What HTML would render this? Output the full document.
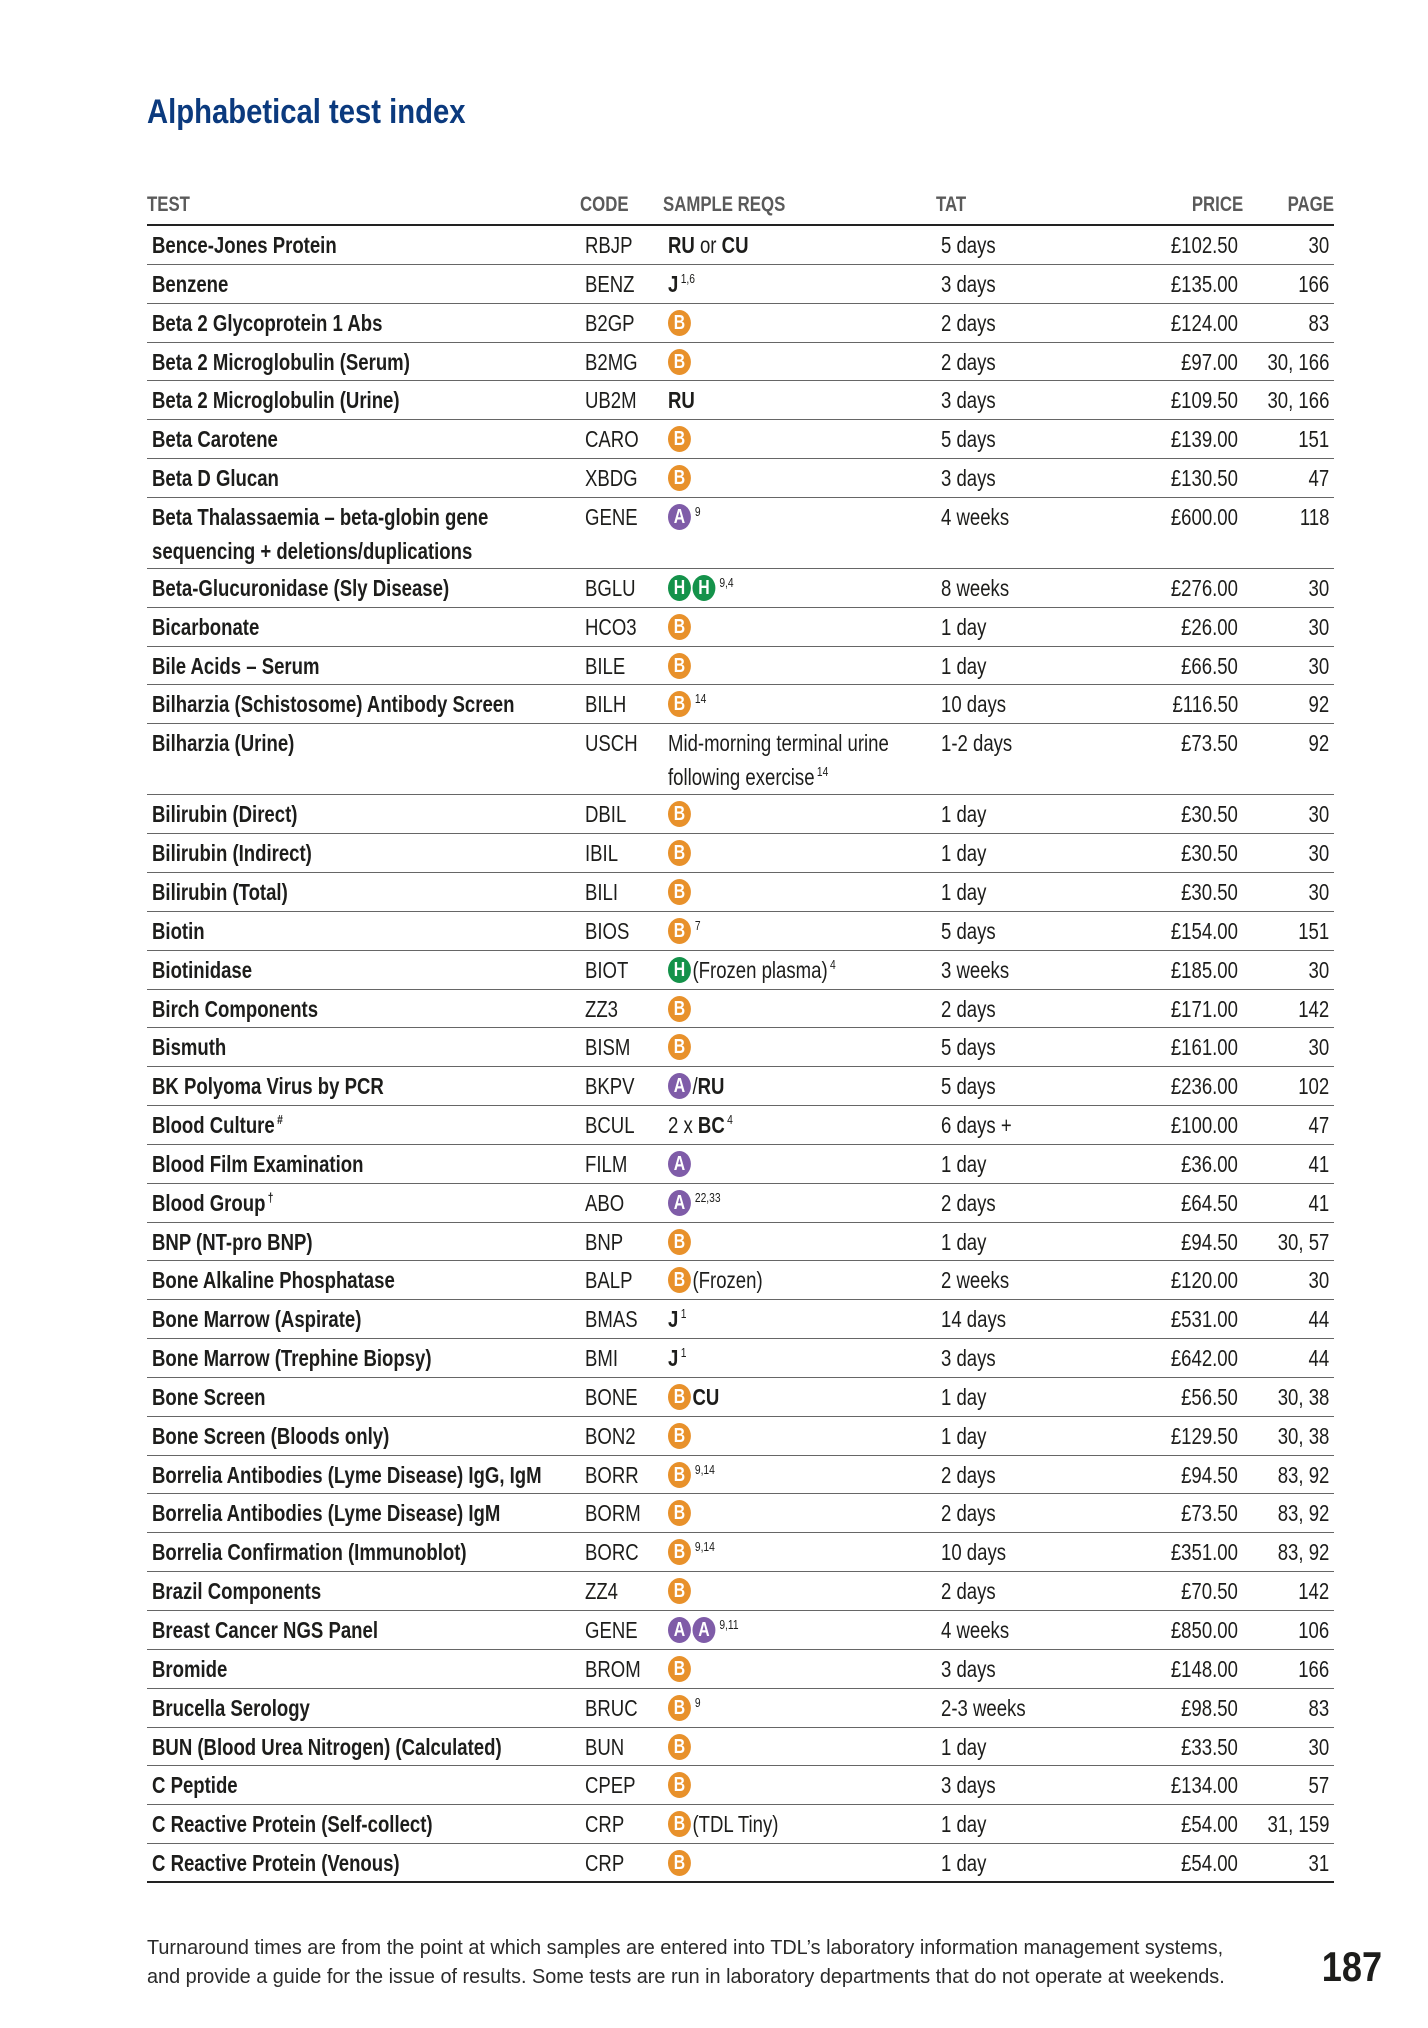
<!DOCTYPE html>
<html><head><meta charset="utf-8"><style>
*{margin:0;padding:0;box-sizing:border-box}
body{width:1428px;height:2028px;background:#fff;position:relative;font-family:"Liberation Sans Narrow","Liberation Sans",sans-serif;color:#1d1d1b;overflow:hidden}
h1{position:absolute;left:147px;top:93px;font-size:34px;font-weight:bold;color:#0b3a7e;transform:scaleX(.86);transform-origin:left;white-space:nowrap}
.hd{position:absolute;top:192px;left:147px;width:1187px;height:34px;border-bottom:2.5px solid #222;font-size:21px;font-weight:bold;color:#5a5a5a}
.hd span{position:absolute;top:1px;transform:scaleX(.8);transform-origin:left;white-space:nowrap}
.hd span.rt{transform-origin:right}
#t{position:absolute;top:226px;left:147px;width:1187px}
.r{position:relative;height:38.85px;border-bottom:1.5px solid #666;font-size:23.5px;line-height:34px}
.r.d{height:71px}
.r>span{position:absolute;top:2px;white-space:nowrap;transform:scaleX(.79);transform-origin:left}
.n{left:5px;font-weight:bold}
.c{left:438px}
.s{left:521px}
.a{left:794px}
.r>span.p{right:96px;transform-origin:right}
.r>span.g{right:5px;transform-origin:right}
.r:last-child{border-bottom:2px solid #222}
b{font-weight:bold}
sup{font-size:13px;vertical-align:9px;margin-left:3px;line-height:0}
i{display:inline-block;font-style:normal;width:29px;height:26px;border-radius:50%;color:#fff;font-weight:bold;font-size:20px;line-height:26px;text-align:center;vertical-align:2px;margin-right:2px}
.B{background:#e8912b}.A{background:#7f5ca8}.H{background:#14924a}
.foot{position:absolute;left:147px;top:1933px;font-size:20.5px;line-height:29px;color:#2a2a2a;transform:scaleX(.968);transform-origin:left;white-space:nowrap}
.pg{position:absolute;right:46px;top:1943px;font-size:42px;font-weight:bold;color:#1d1d1b;transform:scaleX(.86);transform-origin:right}
</style></head><body>
<h1>Alphabetical test index</h1>
<div class="hd"><span style="left:0">TEST</span><span style="left:433px">CODE</span><span style="left:516px">SAMPLE REQS</span><span style="left:789px">TAT</span><span class="rt" style="right:91px">PRICE</span><span class="rt" style="right:0">PAGE</span></div>
<div id="t">
<div class="r"><span class="n">Bence-Jones Protein</span><span class="c">RBJP</span><span class="s"><b>RU</b> or <b>CU</b></span><span class="a">5 days</span><span class="p">£102.50</span><span class="g">30</span></div>
<div class="r"><span class="n">Benzene</span><span class="c">BENZ</span><span class="s"><b>J</b><sup>1,6</sup></span><span class="a">3 days</span><span class="p">£135.00</span><span class="g">166</span></div>
<div class="r"><span class="n">Beta 2 Glycoprotein 1 Abs</span><span class="c">B2GP</span><span class="s"><i class="B">B</i></span><span class="a">2 days</span><span class="p">£124.00</span><span class="g">83</span></div>
<div class="r"><span class="n">Beta 2 Microglobulin (Serum)</span><span class="c">B2MG</span><span class="s"><i class="B">B</i></span><span class="a">2 days</span><span class="p">£97.00</span><span class="g">30, 166</span></div>
<div class="r"><span class="n">Beta 2 Microglobulin (Urine)</span><span class="c">UB2M</span><span class="s"><b>RU</b></span><span class="a">3 days</span><span class="p">£109.50</span><span class="g">30, 166</span></div>
<div class="r"><span class="n">Beta Carotene</span><span class="c">CARO</span><span class="s"><i class="B">B</i></span><span class="a">5 days</span><span class="p">£139.00</span><span class="g">151</span></div>
<div class="r"><span class="n">Beta D Glucan</span><span class="c">XBDG</span><span class="s"><i class="B">B</i></span><span class="a">3 days</span><span class="p">£130.50</span><span class="g">47</span></div>
<div class="r d"><span class="n">Beta Thalassaemia – beta-globin gene<br>sequencing + deletions/duplications</span><span class="c">GENE</span><span class="s"><i class="A">A</i><sup>9</sup></span><span class="a">4 weeks</span><span class="p">£600.00</span><span class="g">118</span></div>
<div class="r"><span class="n">Beta-Glucuronidase (Sly Disease)</span><span class="c">BGLU</span><span class="s"><i class="H">H</i><i class="H">H</i><sup>9,4</sup></span><span class="a">8 weeks</span><span class="p">£276.00</span><span class="g">30</span></div>
<div class="r"><span class="n">Bicarbonate</span><span class="c">HCO3</span><span class="s"><i class="B">B</i></span><span class="a">1 day</span><span class="p">£26.00</span><span class="g">30</span></div>
<div class="r"><span class="n">Bile Acids – Serum</span><span class="c">BILE</span><span class="s"><i class="B">B</i></span><span class="a">1 day</span><span class="p">£66.50</span><span class="g">30</span></div>
<div class="r"><span class="n">Bilharzia (Schistosome) Antibody Screen</span><span class="c">BILH</span><span class="s"><i class="B">B</i><sup>14</sup></span><span class="a">10 days</span><span class="p">£116.50</span><span class="g">92</span></div>
<div class="r d"><span class="n">Bilharzia (Urine)</span><span class="c">USCH</span><span class="s">Mid-morning terminal urine<br>following exercise<sup>14</sup></span><span class="a">1-2 days</span><span class="p">£73.50</span><span class="g">92</span></div>
<div class="r"><span class="n">Bilirubin (Direct)</span><span class="c">DBIL</span><span class="s"><i class="B">B</i></span><span class="a">1 day</span><span class="p">£30.50</span><span class="g">30</span></div>
<div class="r"><span class="n">Bilirubin (Indirect)</span><span class="c">IBIL</span><span class="s"><i class="B">B</i></span><span class="a">1 day</span><span class="p">£30.50</span><span class="g">30</span></div>
<div class="r"><span class="n">Bilirubin (Total)</span><span class="c">BILI</span><span class="s"><i class="B">B</i></span><span class="a">1 day</span><span class="p">£30.50</span><span class="g">30</span></div>
<div class="r"><span class="n">Biotin</span><span class="c">BIOS</span><span class="s"><i class="B">B</i><sup>7</sup></span><span class="a">5 days</span><span class="p">£154.00</span><span class="g">151</span></div>
<div class="r"><span class="n">Biotinidase</span><span class="c">BIOT</span><span class="s"><i class="H">H</i>(Frozen plasma)<sup>4</sup></span><span class="a">3 weeks</span><span class="p">£185.00</span><span class="g">30</span></div>
<div class="r"><span class="n">Birch Components</span><span class="c">ZZ3</span><span class="s"><i class="B">B</i></span><span class="a">2 days</span><span class="p">£171.00</span><span class="g">142</span></div>
<div class="r"><span class="n">Bismuth</span><span class="c">BISM</span><span class="s"><i class="B">B</i></span><span class="a">5 days</span><span class="p">£161.00</span><span class="g">30</span></div>
<div class="r"><span class="n">BK Polyoma Virus by PCR</span><span class="c">BKPV</span><span class="s"><i class="A">A</i>/<b>RU</b></span><span class="a">5 days</span><span class="p">£236.00</span><span class="g">102</span></div>
<div class="r"><span class="n">Blood Culture<sup>#</sup></span><span class="c">BCUL</span><span class="s">2 x <b>BC</b><sup>4</sup></span><span class="a">6 days +</span><span class="p">£100.00</span><span class="g">47</span></div>
<div class="r"><span class="n">Blood Film Examination</span><span class="c">FILM</span><span class="s"><i class="A">A</i></span><span class="a">1 day</span><span class="p">£36.00</span><span class="g">41</span></div>
<div class="r"><span class="n">Blood Group<sup>†</sup></span><span class="c">ABO</span><span class="s"><i class="A">A</i><sup>22,33</sup></span><span class="a">2 days</span><span class="p">£64.50</span><span class="g">41</span></div>
<div class="r"><span class="n">BNP (NT-pro BNP)</span><span class="c">BNP</span><span class="s"><i class="B">B</i></span><span class="a">1 day</span><span class="p">£94.50</span><span class="g">30, 57</span></div>
<div class="r"><span class="n">Bone Alkaline Phosphatase</span><span class="c">BALP</span><span class="s"><i class="B">B</i>(Frozen)</span><span class="a">2 weeks</span><span class="p">£120.00</span><span class="g">30</span></div>
<div class="r"><span class="n">Bone Marrow (Aspirate)</span><span class="c">BMAS</span><span class="s"><b>J</b><sup>1</sup></span><span class="a">14 days</span><span class="p">£531.00</span><span class="g">44</span></div>
<div class="r"><span class="n">Bone Marrow (Trephine Biopsy)</span><span class="c">BMI</span><span class="s"><b>J</b><sup>1</sup></span><span class="a">3 days</span><span class="p">£642.00</span><span class="g">44</span></div>
<div class="r"><span class="n">Bone Screen</span><span class="c">BONE</span><span class="s"><i class="B">B</i><b>CU</b></span><span class="a">1 day</span><span class="p">£56.50</span><span class="g">30, 38</span></div>
<div class="r"><span class="n">Bone Screen (Bloods only)</span><span class="c">BON2</span><span class="s"><i class="B">B</i></span><span class="a">1 day</span><span class="p">£129.50</span><span class="g">30, 38</span></div>
<div class="r"><span class="n">Borrelia Antibodies (Lyme Disease) IgG, IgM</span><span class="c">BORR</span><span class="s"><i class="B">B</i><sup>9,14</sup></span><span class="a">2 days</span><span class="p">£94.50</span><span class="g">83, 92</span></div>
<div class="r"><span class="n">Borrelia Antibodies (Lyme Disease) IgM</span><span class="c">BORM</span><span class="s"><i class="B">B</i></span><span class="a">2 days</span><span class="p">£73.50</span><span class="g">83, 92</span></div>
<div class="r"><span class="n">Borrelia Confirmation (Immunoblot)</span><span class="c">BORC</span><span class="s"><i class="B">B</i><sup>9,14</sup></span><span class="a">10 days</span><span class="p">£351.00</span><span class="g">83, 92</span></div>
<div class="r"><span class="n">Brazil Components</span><span class="c">ZZ4</span><span class="s"><i class="B">B</i></span><span class="a">2 days</span><span class="p">£70.50</span><span class="g">142</span></div>
<div class="r"><span class="n">Breast Cancer NGS Panel</span><span class="c">GENE</span><span class="s"><i class="A">A</i><i class="A">A</i><sup>9,11</sup></span><span class="a">4 weeks</span><span class="p">£850.00</span><span class="g">106</span></div>
<div class="r"><span class="n">Bromide</span><span class="c">BROM</span><span class="s"><i class="B">B</i></span><span class="a">3 days</span><span class="p">£148.00</span><span class="g">166</span></div>
<div class="r"><span class="n">Brucella Serology</span><span class="c">BRUC</span><span class="s"><i class="B">B</i><sup>9</sup></span><span class="a">2-3 weeks</span><span class="p">£98.50</span><span class="g">83</span></div>
<div class="r"><span class="n">BUN (Blood Urea Nitrogen) (Calculated)</span><span class="c">BUN</span><span class="s"><i class="B">B</i></span><span class="a">1 day</span><span class="p">£33.50</span><span class="g">30</span></div>
<div class="r"><span class="n">C Peptide</span><span class="c">CPEP</span><span class="s"><i class="B">B</i></span><span class="a">3 days</span><span class="p">£134.00</span><span class="g">57</span></div>
<div class="r"><span class="n">C Reactive Protein (Self-collect)</span><span class="c">CRP</span><span class="s"><i class="B">B</i>(TDL Tiny)</span><span class="a">1 day</span><span class="p">£54.00</span><span class="g">31, 159</span></div>
<div class="r"><span class="n">C Reactive Protein (Venous)</span><span class="c">CRP</span><span class="s"><i class="B">B</i></span><span class="a">1 day</span><span class="p">£54.00</span><span class="g">31</span></div>
</div>
<div class="foot">Turnaround times are from the point at which samples are entered into TDL’s laboratory information management systems,<br>and provide a guide for the issue of results. Some tests are run in laboratory departments that do not operate at weekends.</div>
<div class="pg">187</div>
</body></html>
